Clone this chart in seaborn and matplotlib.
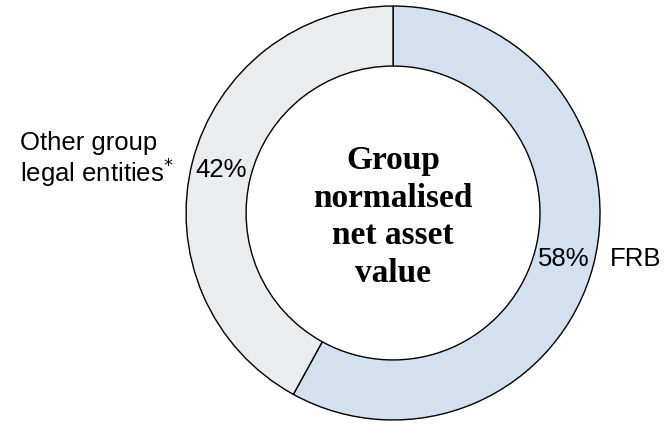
import matplotlib
matplotlib.use('Agg')
import matplotlib.pyplot as plt
import seaborn as sns

# data
segments = ['FRB', 'Other group legal entities']
shares = [58, 42]
seg_colors = ['#d3e0ef', '#ebecee']
centre_title = 'Group\nnormalised\nnet asset\nvalue'

sns.set_style('white')
plt.rcParams['font.family'] = ['Liberation Sans', 'DejaVu Sans']
plt.rcParams['text.color'] = 'black'

fig = plt.figure(figsize=(6.65, 4.26), dpi=100)
ax = fig.add_axes([0, 0, 1, 1])

wedges, _ = ax.pie(shares, colors=seg_colors, startangle=90, counterclock=False,
                   radius=1.0,
                   wedgeprops=dict(width=0.29, edgecolor='black', linewidth=1.0))

ax.set_aspect('equal')
ax.set_xlim(-1.899, 1.314)
ax.set_ylim(-1.029, 1.029)
ax.axis('off')

# percentage labels inside the ring
ax.text(0.826, -0.22, '%d%%' % shares[0], ha='center', va='center', fontsize=18.5)
ax.text(-0.831, 0.208, '%d%%' % shares[1], ha='center', va='center', fontsize=18.5)

# segment names outside
ax.text(1.048, -0.22, segments[0], ha='left', va='center', fontsize=18.5)
ax.text(-1.80, 0.256, 'Other group\nlegal entities$^{*}$', ha='left', va='center',
        fontsize=18.5, linespacing=1.05)

ax.text(0, -0.02, centre_title, ha='center', va='center', fontsize=24,
        fontweight='bold', family='Liberation Serif', linespacing=1.27)

plt.savefig('out.png', dpi=100)
